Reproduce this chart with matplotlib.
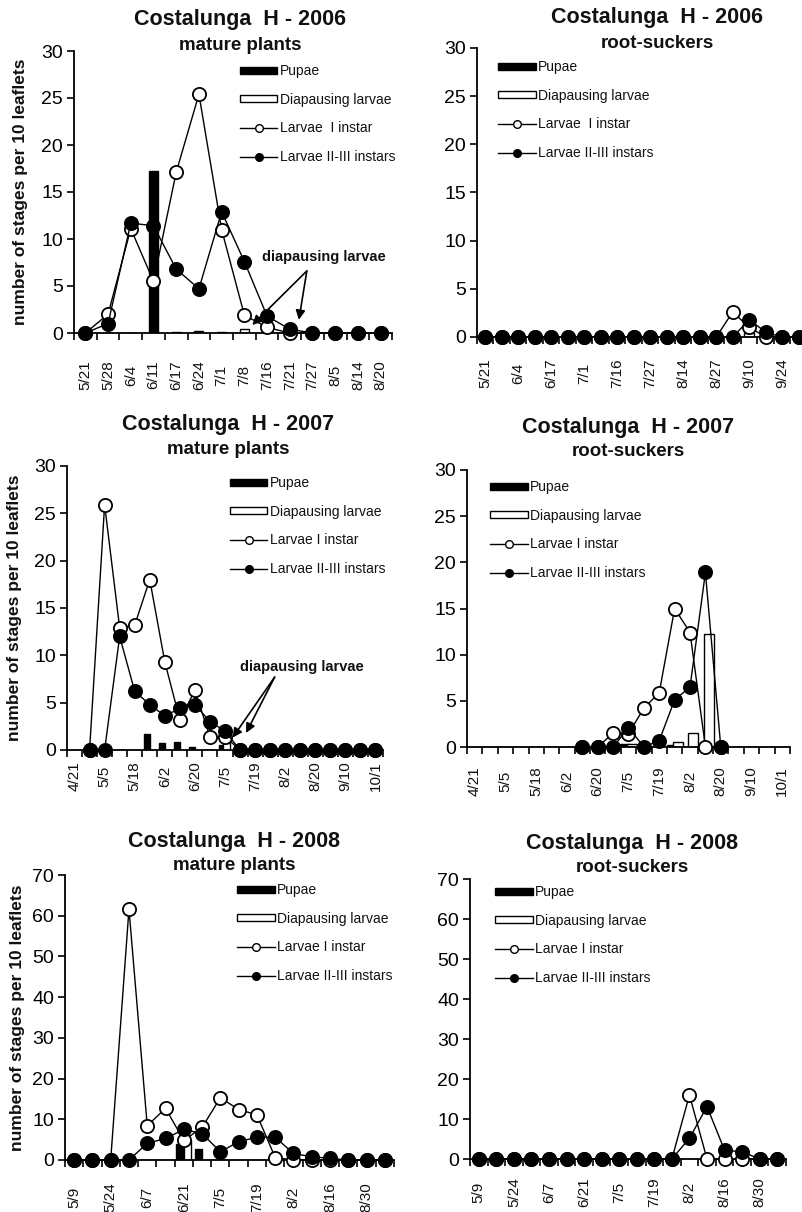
import numpy as np
import matplotlib
matplotlib.use('Agg')
import matplotlib.pyplot as plt
import matplotlib.transforms as mtransforms
from matplotlib.lines import Line2D
from matplotlib.ticker import MultipleLocator, FixedLocator, NullFormatter

plt.rcParams['font.family'] = ['Liberation Sans', 'DejaVu Sans']
plt.rcParams['text.color'] = '#111111'

nan = np.nan

# --- 2006 ---
dates06m = ['5/21', '5/28', '6/4', '6/11', '6/17', '6/24', '7/1', '7/8', '7/16',
            '7/21', '7/27', '8/5', '8/14', '8/20']
pup06m = [0, 0, 0, 17.2, 0.15, 0.2, 0.1, 0, 0, 0, 0, 0, 0, 0]
dia06m = [0, 0, 0, 0, 0, 0, 0, 0.4, 0.2, 0.1, 0, 0, 0, 0]
l1_06m = [0, 2.0, 11.1, 5.5, 17.1, 25.4, 11.0, 1.9, 0.6, 0, 0, 0, 0, 0]
l23_06m = [0, 1.0, 11.7, 11.4, 6.8, 4.7, 12.9, 7.6, 1.8, 0.4, 0, 0, 0, 0]

dates06r = ['5/21', '5/28', '6/4', '6/11', '6/17', '6/24', '7/1', '7/8', '7/16', '7/21',
            '7/27', '8/5', '8/14', '8/20', '8/27', '9/3', '9/10', '9/17', '9/24', '10/1']
pup06r = [0] * 20
dia06r = [0] * 16 + [0.4, 0, 0, 0]
l1_06r = [0] * 15 + [2.6, 1.0, 0, 0, 0]
l23_06r = [0] * 16 + [1.8, 0.5, 0, 0]

# --- 2007 ---
dates07 = ['4/21', '4/28', '5/5', '5/11', '5/18', '5/25', '6/2', '6/9', '6/20', '6/27', '7/5',
           '7/12', '7/19', '7/26', '8/2', '8/9', '8/20', '8/30', '9/10', '9/20', '10/1']
pup07m = [0, 0, 0, 0, 0, 1.65, 0.7, 0.8, 0.3, 0, 0.5, 0, 0, 0, 0, 0, 0, 0, 0, 0, 0]
dia07m = [0, 0, 0, 0, 0, 0, 0, 0, 0, 0, 0.7, 0, 0, 0, 0, 0, 0, 0, 0, 0, 0]
l1_07m = [nan, 0, 25.9, 12.9, 13.2, 18.0, 9.3, 3.2, 6.3, 1.4, 1.4, 0, 0, 0, 0, 0, 0, 0, 0, 0, 0]
l23_07m = [nan, 0, 0, 12.0, 6.2, 4.8, 3.6, 4.4, 4.8, 3.0, 2.0, 0, 0, 0, 0, 0, 0, 0, 0, 0, 0]

pup07r = [0] * 10 + [0.3, 0, 0, 0.2, 0, 0, 0, 0, 0, 0, 0]
dia07r = [0] * 10 + [0.3, 0, 0, 0.5, 1.5, 12.2, 0, 0, 0, 0, 0]
l1_07r = [nan] * 7 + [0, 0, 1.5, 1.45, 4.2, 5.9, 15.0, 12.4, 0, 0] + [nan] * 4
l23_07r = [nan] * 7 + [0, 0, 0, 2.1, 0, 0.7, 5.1, 6.5, 18.9, 0] + [nan] * 4

# --- 2008 ---
dates08 = ['5/9', '5/16', '5/24', '5/31', '6/7', '6/14', '6/21', '6/28', '7/5',
           '7/12', '7/19', '7/26', '8/2', '8/9', '8/16', '8/23', '8/30', '9/6']
pup08m = [0, 0, 0, 0, 0, 0, 4.0, 2.7, 0, 0, 0, 0, 0, 0, 0, 0, 0, 0]
dia08m = [0, 0, 0, 0, 0, 0, 5.0, 0, 0, 0, 0, 0, 0, 0, 0, 0, 0, 0]
l1_08m = [0, 0, 0, 61.6, 8.4, 12.7, 4.8, 8.0, 15.3, 12.4, 11.1, 0.6, 0, 0, 0, 0, 0, 0]
l23_08m = [0, 0, 0, 0, 4.1, 5.3, 7.5, 6.5, 2.0, 4.5, 5.6, 5.6, 1.6, 0.8, 0.4, 0, 0, 0]

pup08r = [0] * 18
dia08r = [0] * 18
l1_08r = [0] * 12 + [16.0, 0, 0, 0, 0, 0]
l23_08r = [0] * 12 + [5.2, 13.1, 2.2, 1.8, 0, 0]

W, H = 803, 1212
fig = plt.figure(figsize=(W / 100, H / 100), dpi=100)

def fx(x):
    return x / W

def fy(y):
    return 1 - y / H

panels = [
    dict(title='Costalunga  H - 2006', sub='mature plants', dates=dates06m, step=1,
         pup=pup06m, dia=dia06m, l1=l1_06m, l23=l23_06m, ymax=30, ystep=5,
         box=(74, 392, 51, 333), pad=42, tx=240, ty=20, sy=46, ylab=21,
         leg=(240, 64), l1name='Larvae  I instar', bw=0.4, bo=(0, 0)),
    dict(title='Costalunga  H - 2006', sub='root-suckers', dates=dates06r, step=2,
         pup=pup06r, dia=dia06r, l1=l1_06r, l23=l23_06r, ymax=30, ystep=5,
         box=(477, 807, 48, 337), pad=36, tx=657, ty=18, sy=43, ylab=None,
         leg=(498, 60), l1name='Larvae  I instar', bw=0.6, bo=(0, 0)),
    dict(title='Costalunga  H - 2007', sub='mature plants', dates=dates07, step=2,
         pup=pup07m, dia=dia07m, l1=l1_07m, l23=l23_07m, ymax=30, ystep=5,
         box=(67, 383, 466, 750), pad=26, tx=228, ty=425, sy=450, ylab=15,
         leg=(230, 476), l1name='Larvae I instar', bw=0.4, bo=(-0.2, 0.1)),
    dict(title='Costalunga  H - 2007', sub='root-suckers', dates=dates07, step=2,
         pup=pup07r, dia=dia07r, l1=l1_07r, l23=l23_07r, ymax=30, ystep=5,
         box=(467, 790, 470, 747), pad=34, tx=628, ty=428, sy=452, ylab=None,
         leg=(490, 480), l1name='Larvae I instar', bw=0.65, bo=(-0.2, 0.22)),
    dict(title='Costalunga  H - 2008', sub='mature plants', dates=dates08, step=2,
         pup=pup08m, dia=dia08m, l1=l1_08m, l23=l23_08m, ymax=70, ystep=10,
         box=(65, 394, 875, 1160), pad=37, tx=234, ty=842, sy=865, ylab=18,
         leg=(237, 883), l1name='Larvae I instar', bw=0.4, bo=(-0.2, 0.2)),
    dict(title='Costalunga  H - 2008', sub='root-suckers', dates=dates08, step=2,
         pup=pup08r, dia=dia08r, l1=l1_08r, l23=l23_08r, ymax=70, ystep=10,
         box=(470, 786, 879, 1159), pad=33, tx=632, ty=843, sy=867, ylab=None,
         leg=(495, 885), l1name='Larvae I instar', bw=0.4, bo=(-0.2, 0.2)),
]

axes = []
for p in panels:
    l, r, t, b = p['box']
    ax = fig.add_axes([fx(l), fy(b), (r - l) / W, (b - t) / H])
    axes.append(ax)
    n = len(p['dates'])
    x = np.arange(n)

    bp = ax.bar(x + p['bo'][0], p['pup'], width=p['bw'], color='black',
                edgecolor='black', linewidth=1, zorder=2)
    bd = ax.bar(x + p['bo'][1], p['dia'], width=p['bw'], color='white',
                edgecolor='black', linewidth=1, zorder=2)
    ax.plot(x, p['l1'], color='black', lw=1, marker='o', ms=9.5, mfc='white',
            mec='black', mew=1.3, zorder=3, clip_on=False)
    ax.plot(x, p['l23'], color='black', lw=1, marker='o', ms=9.5, mfc='black',
            mec='black', mew=1.3, zorder=4, clip_on=False)

    ax.set_xlim(-0.5, n - 0.5)
    ax.set_ylim(0, p['ymax'])
    ax.yaxis.set_major_locator(MultipleLocator(p['ystep']))
    ax.spines['top'].set_visible(False)
    ax.spines['right'].set_visible(False)
    for s in ('left', 'bottom'):
        ax.spines[s].set_linewidth(1.3)
    ax.tick_params(axis='y', direction='out', length=5, width=1.2, labelsize=14, pad=3)

    # ticks between categories, date labels centred under every shown category
    ax.xaxis.set_major_locator(FixedLocator(np.arange(n + 1) - 0.5))
    ax.xaxis.set_major_formatter(NullFormatter())
    ax.tick_params(axis='x', direction='out', length=5, width=1.2)
    trans = mtransforms.offset_copy(ax.get_xaxis_transform(), fig=fig,
                                    y=-p['pad'], units='dots')
    for i in range(0, n, p['step']):
        ax.text(i, 0, p['dates'][i], transform=trans, rotation=90,
                ha='center', va='center', fontsize=11)

    fig.text(fx(p['tx']), fy(p['ty']), p['title'], ha='center', va='center',
             fontsize=15.5, fontweight='bold')
    fig.text(fx(p['tx']), fy(p['sy']), p['sub'], ha='center', va='center',
             fontsize=13.5, fontweight='bold')
    if p['ylab'] is not None:
        fig.text(fx(p['ylab']), fy((t + b) / 2), 'number of stages per 10 leaflets',
                 rotation=90, ha='center', va='center', fontsize=12.5, fontweight='bold')

    h1 = Line2D([], [], color='black', lw=1, marker='o', ms=5.5, mfc='white', mec='black')
    h2 = Line2D([], [], color='black', lw=1, marker='o', ms=5.5, mfc='black', mec='black')
    ax.legend([bp, bd, h1, h2],
              ['Pupae', 'Diapausing larvae', p['l1name'], 'Larvae II-III instars'],
              loc='upper left', bbox_to_anchor=(fx(p['leg'][0]), fy(p['leg'][1])),
              bbox_transform=fig.transFigure, frameon=False, fontsize=10,
              handlelength=2.7, handleheight=0.4, labelspacing=1.05,
              handletextpad=0.15, borderpad=0, borderaxespad=0)

# annotations for diapausing larvae
for ax, txt, start, targets in [
        (axes[0], (10.5, 8.1), (9.75, 6.6), [(7.35, 0.85), (9.4, 1.4)]),
        (axes[2], (15.1, 8.8), (13.3, 7.7), [(10.5, 1.3), (11.4, 1.8)])]:
    ax.text(txt[0], txt[1], 'diapausing larvae', ha='center', va='center',
            fontsize=10.5, fontweight='bold', zorder=6)
    for tg in targets:
        ax.annotate('', xy=tg, xytext=start,
                    arrowprops=dict(arrowstyle='-|>', color='black', lw=1.2,
                                    mutation_scale=14, shrinkA=0, shrinkB=0),
                    zorder=6)

fig.savefig('out.png', dpi=100)
